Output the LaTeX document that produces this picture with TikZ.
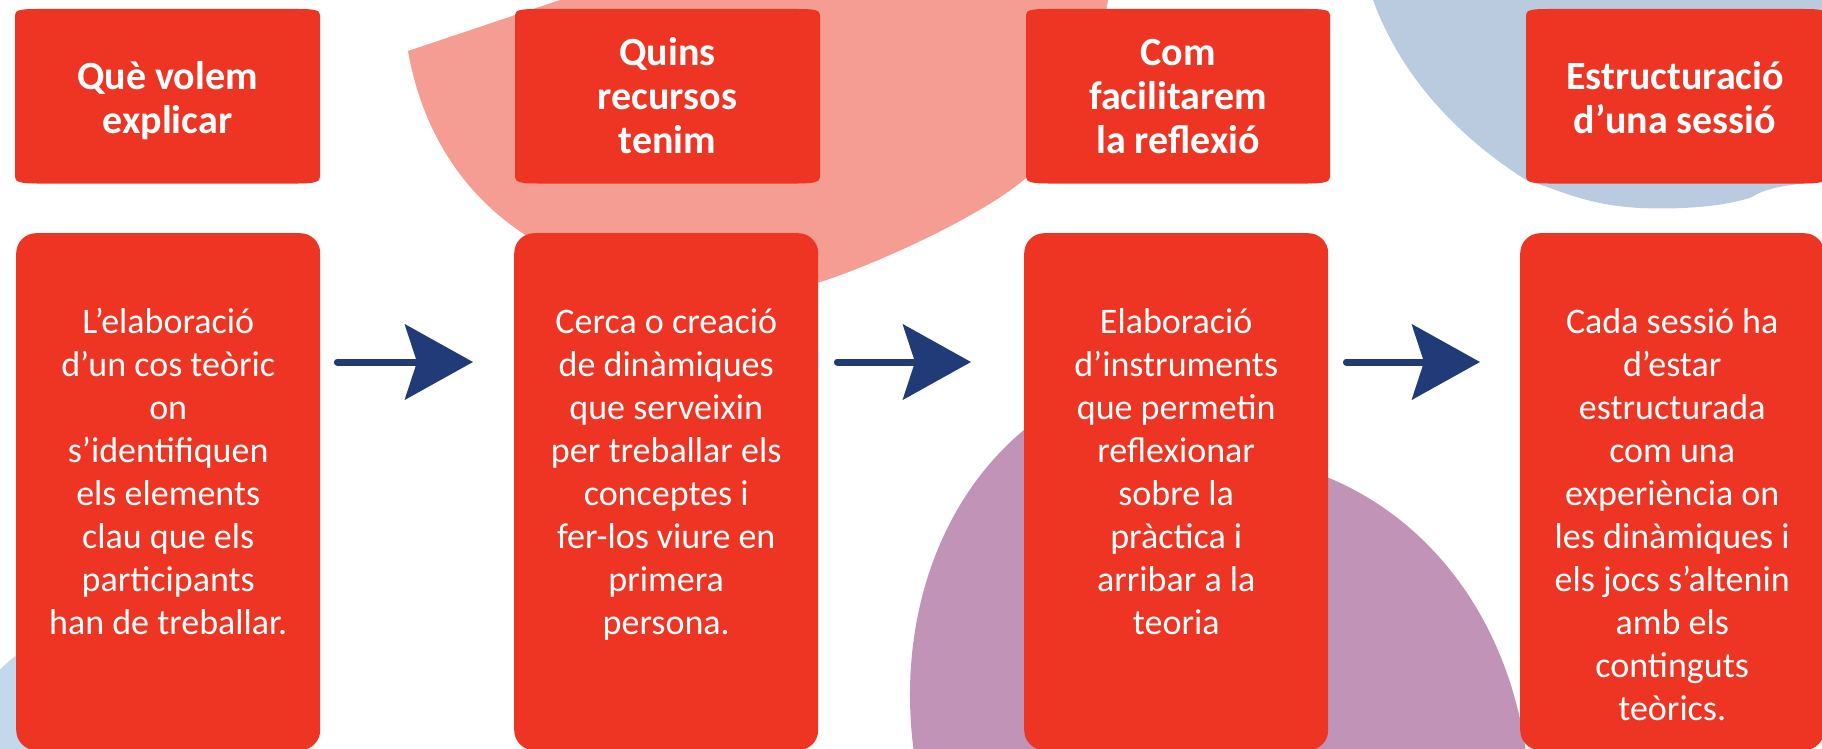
\documentclass[tikz,border=0pt]{standalone}
\usepackage{fontspec}
\setmainfont{Carlito}
\usetikzlibrary{arrows.meta,calc}
\definecolor{boxred}{HTML}{EE3524}
\definecolor{pinkbg}{HTML}{F59D92}
\definecolor{bluebg}{HTML}{BACBE0}
\definecolor{purplebg}{HTML}{C193B7}
\definecolor{lbluebg}{HTML}{C3D8EB}
\definecolor{navy}{HTML}{213B78}
\newcommand{\hdrshape}[2]{%
  \fill[boxred] (#1,15) .. controls (#1,10) and (#1+6,9) .. (#1+22,9) -- (#2-22,9)
    .. controls (#2-6,9) and (#2,10) .. (#2,15) -- (#2,177)
    .. controls (#2,182) and (#2-6,183.5) .. (#2-22,183.5) -- (#1+22,183.5)
    .. controls (#1+6,183.5) and (#1,182) .. (#1,177) -- cycle;}
\begin{document}
\begin{tikzpicture}[x=1pt,y=-1pt,
  bodybox/.style={fill=boxred, rounded corners=20pt, minimum width=304pt, minimum height=517pt, inner sep=0pt, anchor=north west},
  bodytext/.style={text=white, align=center, font=\fontsize{36}{43}\selectfont, inner sep=0pt, anchor=north},
  hdrtext/.style={text=white, align=center, font=\bfseries\fontsize{40}{44}\selectfont, inner sep=0pt, anchor=north},
  flow/.style={draw=navy, line width=7pt, line cap=round, -{Stealth[length=68pt,width=75pt,inset=12pt]}}]
\useasboundingbox (0,0) rectangle (1822,749);
\clip (0,0) rectangle (1822,749);
% background shapes
\fill[lbluebg] (120,790) circle (170);
\fill[pinkbg] (560,0) -- (408,51) .. controls (420,120) and (455,190) .. (527,236)
  .. controls (600,290) and (700,300) .. (817,283)
  .. controls (870,267) and (985,215) .. (1027,177)
  .. controls (1070,120) and (1100,50) .. (1108,0) -- cycle;
\fill[bluebg] (1373,0) .. controls (1395,60) and (1440,125) .. (1526,180)
  .. controls (1560,190) and (1585,205) .. (1640,208)
  .. controls (1690,210) and (1730,205) .. (1752,197)
  .. controls (1765,188) and (1790,184) .. (1822,182) -- (1830,0) -- cycle;
\fill[purplebg] (915,760) .. controls (895,630) and (935,500) .. (1030,425)
  .. controls (1120,370) and (1250,440) .. (1329,478)
  .. controls (1430,520) and (1510,620) .. (1527,760) -- cycle;
% header banners
\hdrshape{15}{320}
\hdrshape{515}{820}
\hdrshape{1026}{1330}
\hdrshape{1526}{1826}
\node[hdrtext] (h1) at (167.5,53) {\rule{0pt}{36pt}Què volem\\explicar};
\node[hdrtext] (h2) at (667.5,29) {\rule{0pt}{36pt}Quins\\recursos\\tenim};
\node[hdrtext] (h3) at (1178,29) {\rule{0pt}{36pt}Com\\facilitarem\\la reflexió};
\node[hdrtext] (h4) at (1675,53) {\rule{0pt}{36pt}Estructuració\\d’una sessió};
% body boxes
\node[bodybox] (b1) at (16,233) {};
\node[bodybox] (b2) at (514,233) {};
\node[bodybox] (b3) at (1024,233) {};
\node[bodybox] (b4) at (1520,233) {};
\node[bodytext] (t1) at ($(b1.north)+(0,66)$) {\rule{0pt}{34pt}L’elaboració\\d’un cos teòric\\on\\s’identifiquen\\els elements\\clau que els\\participants\\han de treballar.};
\node[bodytext] (t2) at ($(b2.north)+(0,66)$) {\rule{0pt}{34pt}Cerca o creació\\de dinàmiques\\que serveixin\\per treballar els\\conceptes i\\fer-los viure en\\primera\\persona.};
\node[bodytext] (t3) at ($(b3.north)+(0,66)$) {\rule{0pt}{34pt}Elaboració\\d’instruments\\que permetin\\reflexionar\\sobre la\\pràctica i\\arribar a la\\teoria};
\node[bodytext] (t4) at ($(b4.north)+(0,66)$) {\rule{0pt}{34pt}Cada sessió ha\\d’estar\\estructurada\\com una\\experiència on\\les dinàmiques i\\els jocs s’altenin\\amb els\\continguts\\teòrics.};
% arrows
\draw[flow] ($(b1.north east)+(17,129)$) -- ($(b2.north west)+(-41,129)$);
\draw[flow] ($(b2.north east)+(19,129)$) -- ($(b3.north west)+(-53,129)$);
\draw[flow] ($(b3.north east)+(18,129)$) -- ($(b4.north west)+(-40,129)$);
\end{tikzpicture}
\end{document}
